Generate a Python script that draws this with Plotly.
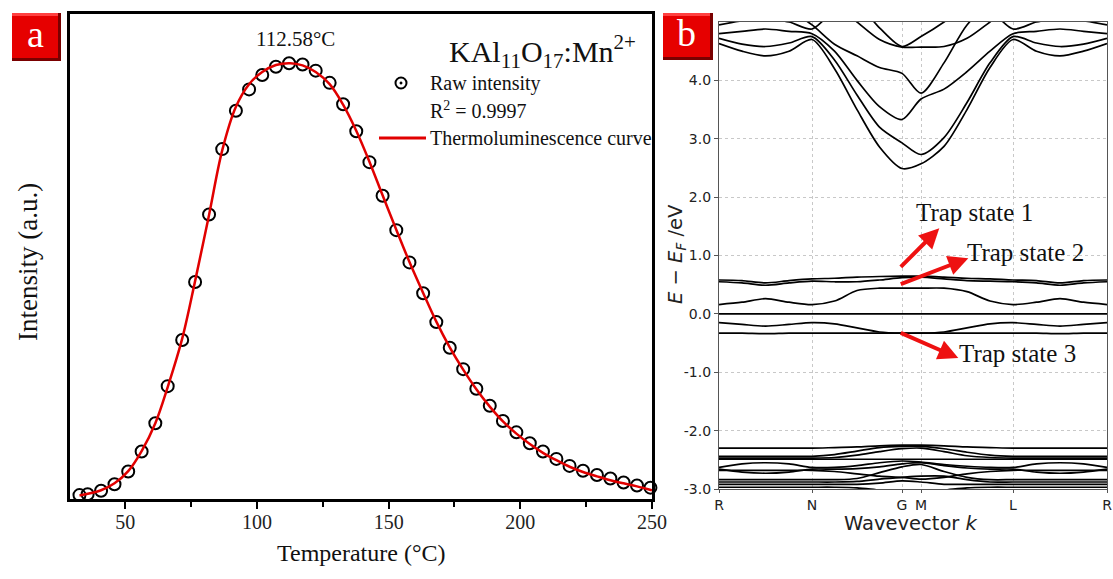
import plotly.graph_objects as go

W, H = 1113, 579
def px(x): return x / W
def py(y): return 1 - y / H

SERIF = "Liberation Serif"
SANS = "DejaVu Sans"

# ---------------- Panel a: thermoluminescence ----------------
temp_raw = [32.6, 35.7, 40.8, 45.9, 51.1, 56.2, 61.4, 66.1, 71.6, 76.5, 81.8, 86.8, 92.0, 97.0,
            102.0, 107.2, 112.2, 117.3, 122.3, 127.6, 132.7, 137.7, 142.7, 147.7, 152.9, 157.9,
            163.1, 168.1, 173.2, 178.3, 183.3, 188.4, 193.4, 198.5, 203.6, 208.6, 213.7, 218.7,
            223.8, 229.1, 234.2, 239.2, 244.3, 249.4]
intensity_raw = [0.009, 0.011, 0.019, 0.034, 0.063, 0.109, 0.174, 0.259, 0.365, 0.498, 0.653, 0.803,
                 0.891, 0.940, 0.973, 0.992, 1.000, 0.997, 0.983, 0.955, 0.906, 0.844, 0.773, 0.696,
                 0.617, 0.543, 0.472, 0.406, 0.347, 0.298, 0.253, 0.214, 0.179, 0.153, 0.128, 0.109,
                 0.092, 0.076, 0.065, 0.055, 0.047, 0.038, 0.031, 0.026]
temp_fit = [32.6, 40.8, 45.9, 51.1, 56.2, 61.4, 66.1, 71.6, 76.5, 81.8, 86.8, 92.0, 97.0, 102.0,
            107.2, 112.6, 117.3, 122.3, 127.6, 132.7, 137.7, 142.7, 147.7, 152.9, 157.9, 163.1,
            168.1, 173.2, 178.3, 183.3, 188.4, 193.4, 198.5, 203.6, 208.6, 213.7, 218.7, 223.8,
            229.1, 234.2, 239.2, 244.3, 250.0]
intensity_fit = [0.008, 0.020, 0.036, 0.064, 0.110, 0.174, 0.257, 0.368, 0.500, 0.652, 0.800, 0.900,
                 0.952, 0.980, 0.996, 1.000, 0.995, 0.980, 0.952, 0.905, 0.845, 0.774, 0.697, 0.618,
                 0.544, 0.473, 0.407, 0.348, 0.297, 0.252, 0.212, 0.178, 0.150, 0.126, 0.106, 0.089,
                 0.074, 0.062, 0.052, 0.043, 0.036, 0.029, 0.020]
temp_ticks = [50, 100, 150, 200, 250]
temp_minor = [75, 125, 175, 225]

# ---------------- Panel b: band structure ----------------
k_ticks = [0, 93, 183, 202, 294, 388]
k_labels = ["R", "N", "G", "M", "L", "R"]
k_path = [0, 23, 46.5, 70, 93, 115.5, 138, 160.5, 183, 202, 225, 248, 271, 294, 317.5, 341, 364.5, 388]
e_ticks = [-3, -2, -1, 0, 1, 2, 3, 4]
e_labels = ["-3.0", "-2.0", "-1.0", "0.0", "1.0", "2.0", "3.0", "4.0"]

cb_a = [4.63, 4.50, 4.42, 4.50, 4.70, 4.20, 3.50, 2.86, 2.49, 2.57, 2.87, 3.50, 4.22, 4.70, 4.50, 4.42, 4.50, 4.63]
cb_b = [4.72, 4.62, 4.58, 4.64, 4.75, 4.35, 3.75, 3.20, 2.93, 2.73, 3.02, 3.62, 4.30, 4.75, 4.64, 4.58, 4.62, 4.72]
cb_c = [4.80, 4.84, 4.88, 4.84, 4.80, 4.50, 4.00, 3.55, 3.33, 3.68, 3.85, 4.15, 4.50, 4.80, 4.84, 4.88, 4.84, 4.80]
cb_d = [5.30, 5.30, 5.30, 5.20, 4.95, 4.62, 4.42, 4.22, 4.12, 3.78, 4.30, 4.95, 5.30, 5.30, 5.30, 5.30, 5.30, 5.30]
cb_e = [5.30, 5.30, 5.30, 5.30, 5.30, 5.30, 5.00, 4.70, 4.57, 4.57, 4.58, 4.72, 5.00, 5.30, 5.30, 5.30, 5.30, 5.30]
cb_f = [5.30, 5.30, 5.30, 5.30, 5.30, 5.30, 5.30, 4.90, 4.58, 4.75, 5.00, 5.30, 5.30, 5.30, 5.30, 5.30, 5.30, 5.30]
cb_g = [4.95, 5.02, 5.05, 5.00, 4.88, 5.20, 5.30, 5.30, 5.30, 5.30, 5.30, 5.30, 5.20, 4.88, 5.00, 5.05, 5.02, 4.95]

mg_1 = [0.58, 0.57, 0.53, 0.57, 0.60, 0.61, 0.63, 0.64, 0.645, 0.645, 0.63, 0.61, 0.60, 0.58, 0.57, 0.53, 0.57, 0.58]
mg_2 = [0.55, 0.53, 0.49, 0.53, 0.56, 0.55, 0.55, 0.58, 0.62, 0.63, 0.60, 0.57, 0.56, 0.55, 0.53, 0.49, 0.53, 0.55]
mg_3 = [0.16, 0.20, 0.26, 0.20, 0.16, 0.22, 0.40, 0.44, 0.44, 0.44, 0.44, 0.38, 0.22, 0.16, 0.20, 0.26, 0.20, 0.16]
mg_4 = [0.0] * 18
mg_5 = [-0.15, -0.18, -0.21, -0.18, -0.15, -0.17, -0.24, -0.31, -0.33, -0.33, -0.31, -0.24, -0.17, -0.15, -0.18, -0.21, -0.18, -0.15]
mg_6 = [-0.33, -0.33, -0.34, -0.33, -0.33, -0.33, -0.33, -0.33, -0.33, -0.33, -0.33, -0.33, -0.33, -0.33, -0.33, -0.34, -0.33, -0.33]

vb_1 = [-2.30, -2.30, -2.30, -2.30, -2.30, -2.29, -2.28, -2.26, -2.25, -2.25, -2.26, -2.28, -2.29, -2.30, -2.30, -2.30, -2.30, -2.30]
vb_2 = [-2.44, -2.44, -2.44, -2.44, -2.44, -2.41, -2.35, -2.29, -2.27, -2.27, -2.31, -2.37, -2.42, -2.44, -2.44, -2.44, -2.44, -2.44]
vb_3 = [-2.47, -2.47, -2.47, -2.47, -2.47, -2.46, -2.42, -2.36, -2.31, -2.30, -2.36, -2.43, -2.46, -2.47, -2.47, -2.47, -2.47, -2.47]
vb_4 = [-2.49] * 18
vb_5 = [-2.63, -2.57, -2.55, -2.57, -2.63, -2.63, -2.60, -2.55, -2.52, -2.54, -2.58, -2.61, -2.63, -2.63, -2.57, -2.55, -2.57, -2.63]
vb_6 = [-2.66, -2.71, -2.73, -2.71, -2.66, -2.66, -2.65, -2.62, -2.57, -2.55, -2.60, -2.64, -2.66, -2.66, -2.71, -2.73, -2.71, -2.66]
vb_7 = [-2.68, -2.68, -2.68, -2.68, -2.68, -2.70, -2.74, -2.78, -2.80, -2.83, -2.80, -2.74, -2.70, -2.68, -2.68, -2.68, -2.68, -2.68]
vb_8 = [-2.84, -2.84, -2.84, -2.84, -2.84, -2.84, -2.82, -2.72, -2.62, -2.58, -2.70, -2.80, -2.84, -2.84, -2.84, -2.84, -2.84, -2.84]
vb_9 = [-2.88, -2.88, -2.88, -2.88, -2.88, -2.88, -2.87, -2.83, -2.80, -2.78, -2.78, -2.84, -2.88, -2.88, -2.88, -2.88, -2.88, -2.88]
vb_10 = [-2.92, -2.92, -2.92, -2.92, -2.92, -2.92, -2.92, -2.90, -2.86, -2.88, -2.92, -2.92, -2.92, -2.92, -2.92, -2.92, -2.92, -2.92]
vb_11 = [-2.97, -2.97, -2.97, -2.97, -2.97, -2.97, -2.98, -3.02, -3.05, -3.05, -3.02, -2.98, -2.97, -2.97, -2.97, -2.97, -2.97, -2.97]

bands = [cb_a, cb_b, cb_c, cb_d, cb_e, cb_f, cb_g,
         mg_1, mg_2, mg_3, mg_4, mg_5, mg_6,
         vb_1, vb_2, vb_3, vb_4, vb_5, vb_6, vb_7, vb_8, vb_9, vb_10, vb_11]

RED = "#e10000"

fig = go.Figure()

fig.add_trace(go.Scatter(
    x=temp_raw, y=intensity_raw, mode="markers", cliponaxis=False,
    marker=dict(symbol="circle-open", size=12, color="black", line=dict(width=2, color="black")),
    xaxis="x", yaxis="y", showlegend=False))
fig.add_trace(go.Scatter(
    x=temp_fit, y=intensity_fit, mode="lines", line=dict(color=RED, width=2.5, shape="spline"),
    xaxis="x", yaxis="y", showlegend=False))

for b in bands:
    fig.add_trace(go.Scatter(
        x=k_path, y=b, mode="lines", line=dict(color="black", width=1.7, shape="spline", smoothing=0.8),
        xaxis="x2", yaxis="y2", showlegend=False, hoverinfo="skip"))

shapes = []
annotations = []

# panel label boxes
def label_box(x0, y0, x1, y1, letter):
    shapes.append(dict(type="rect", xref="paper", yref="paper", x0=px(x0), x1=px(x1), y0=py(y1), y1=py(y0),
                       fillcolor="#7a0000", line=dict(width=0), layer="above"))
    shapes.append(dict(type="rect", xref="paper", yref="paper", x0=px(x0), x1=px(x1 - 3), y0=py(y1 - 3), y1=py(y0),
                       fillcolor="#e60000", line=dict(width=0), layer="above"))
    shapes.append(dict(type="rect", xref="paper", yref="paper", x0=px(x0), x1=px(x1 - 3), y0=py(y0 + 3), y1=py(y0),
                       fillcolor="#ff4040", line=dict(width=0), layer="above"))
    annotations.append(dict(xref="paper", yref="paper", x=px((x0 + x1 - 3) / 2), y=py((y0 + y1 - 3) / 2 - 2),
                            text=letter, showarrow=False, xanchor="center", yanchor="middle",
                            font=dict(family=SERIF, size=38, color="white")))

label_box(12, 13, 61, 61, "a")
label_box(663, 13, 713, 60, "b")

# legend of panel a
shapes.append(dict(type="circle", xref="paper", yref="paper", x0=px(395.5), x1=px(406.5), y0=py(88.5), y1=py(77.5),
                   line=dict(color="black", width=2)))
shapes.append(dict(type="circle", xref="paper", yref="paper", x0=px(399.8), x1=px(402.2), y0=py(84.2), y1=py(81.8),
                   fillcolor="black", line=dict(color="black", width=0.5)))
shapes.append(dict(type="line", xref="paper", yref="paper", x0=px(379), x1=px(426), y0=py(138), y1=py(138),
                   line=dict(color=RED, width=3)))

def txt(x, y, text, size, family=SERIF, color="#111", xanchor="left", angle=0):
    annotations.append(dict(xref="paper", yref="paper", x=px(x), y=py(y), text=text, showarrow=False,
                            xanchor=xanchor, yanchor="middle", textangle=angle,
                            font=dict(family=family, size=size, color=color)))

txt(428, 83, "Raw intensity", 20)
txt(428, 110, "R<sup>2</sup> = 0.9997", 20)
txt(428, 138, "Thermoluminescence curve", 20)
txt(542, 52, "KAl<sub>11</sub>O<sub>17</sub>:Mn<sup>2+</sup>", 30, xanchor="center")
txt(295, 39, "112.58°C", 21, xanchor="center")
txt(361, 553, "Temperature (°C)", 24, xanchor="center")
txt(28, 262, "Intensity (a.u.)", 27, xanchor="center", angle=-90)

# panel b texts
txt(911, 523, "Wavevector <i>k</i>", 19.5, family=SANS, color="#222", xanchor="center")
txt(677, 254, "<i>E</i> − <i>E<sub>F</sub></i> /eV", 19.5, family=SANS, color="#222", xanchor="center", angle=-90)

def ann_data(x, y, text, size):
    annotations.append(dict(xref="x2", yref="y2", x=x, y=y, text=text, showarrow=False, xanchor="left",
                            yanchor="middle", font=dict(family=SERIF, size=size, color="#111")))

ann_data(195, 1.74, "Trap state 1", 25)
ann_data(246, 1.06, "Trap state 2", 25)
ann_data(238, -0.68, "Trap state 3", 25)

ARROW = "#ee1111"
for (hx, hy, tx, ty) in [(220.3, 1.465, 180.3, 0.78), (249.3, 0.955, 180.3, 0.50), (239.3, -0.757, 180.3, -0.313)]:
    annotations.append(dict(xref="x2", yref="y2", axref="x2", ayref="y2", x=hx, y=hy, ax=tx, ay=ty,
                            text="", showarrow=True, arrowhead=2, arrowsize=1, arrowwidth=4,
                            arrowcolor=ARROW, standoff=0, startstandoff=0))

fig.update_layout(
    width=W, height=H, margin=dict(l=0, r=0, t=0, b=0, autoexpand=False),
    paper_bgcolor="white", plot_bgcolor="white", showlegend=False,
    xaxis=dict(domain=[px(70), px(652)], range=[29, 250], anchor="y", automargin=False,
               showline=True, mirror=True, linecolor="black", linewidth=2.5,
               showgrid=False, zeroline=False, tickvals=temp_ticks, ticks="outside", ticklen=7,
               tickwidth=1.5, tickcolor="black", ticklabelstandoff=-4,
               minor=dict(tickvals=temp_minor, ticks="outside", ticklen=5, tickwidth=1.5, tickcolor="black"),
               tickfont=dict(family=SERIF, size=20, color="#222")),
    yaxis=dict(domain=[py(499), py(14)], range=[0, 1.113], anchor="x", automargin=False,
               showline=True, mirror=True, linecolor="black", linewidth=2.5,
               showgrid=False, zeroline=False, showticklabels=False, ticks=""),
    xaxis2=dict(domain=[px(719), px(1107)], range=[0, 388], anchor="y2", automargin=False,
                showline=True, mirror=True, linecolor="#555", linewidth=1.2,
                showgrid=True, gridcolor="#c8c8c8", griddash="dot", gridwidth=1,
                zeroline=False, tickvals=k_ticks, ticktext=k_labels, ticks="outside", ticklen=3,
                tickcolor="#555", tickfont=dict(family=SANS, size=14, color="#222")),
    yaxis2=dict(domain=[py(489), py(22)], range=[-3, 5], anchor="x2", automargin=False,
                showline=True, mirror=True, linecolor="#555", linewidth=1.2,
                showgrid=True, gridcolor="#c8c8c8", griddash="dot", gridwidth=1,
                zeroline=False, tickvals=e_ticks, ticktext=e_labels, ticks="outside", ticklen=4,
                tickcolor="#555", tickfont=dict(family=SANS, size=14, color="#222")),
    shapes=shapes, annotations=annotations,
)

fig.write_html("out.html", config={"displayModeBar": False},
               post_script="document.body.style.margin='0';document.body.style.overflow='hidden';")
